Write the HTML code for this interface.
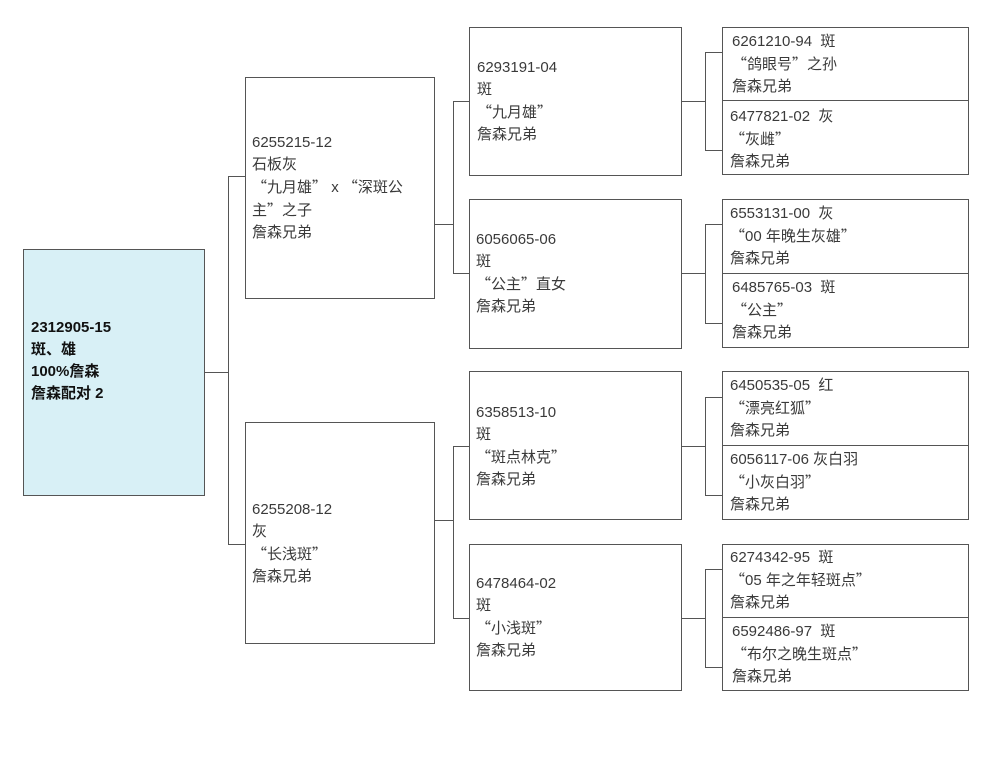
<!DOCTYPE html>
<html><head><meta charset="utf-8"><style>
body{margin:0;background:#fff;}
#c{position:relative;width:990px;height:765px;overflow:hidden;background:#fff;font-family:"Liberation Sans","Noto Sans CJK SC",sans-serif;}
.b{position:absolute;border:1.5px solid #555;box-sizing:border-box;background:#fff;}
.t{position:absolute;font-size:15px;line-height:22px;color:#3a3a3a;white-space:pre;}
.h{position:absolute;height:0;border-top:1.5px solid #555;}
.v{position:absolute;width:0;border-left:1.5px solid #555;}
q{quotes:none;font-family:"Noto Sans CJK SC",sans-serif;}
q:before,q:after{content:none;}
</style></head><body><div id="c">
<div class="b" style="left:23px;top:249px;width:182px;height:247px;background:#d8f0f6;"></div>
<div class="t" style="left:31px;top:317px;color:#111;font-weight:bold;">2312905-15
斑、雄
100%詹森
詹森配对 2</div>
<div class="h" style="left:204px;top:372px;width:24px;"></div>
<div class="v" style="left:228px;top:176px;height:368px;"></div>
<div class="h" style="left:228px;top:176px;width:17px;"></div>
<div class="h" style="left:228px;top:544px;width:17px;"></div>
<div class="b" style="left:245px;top:77px;width:190px;height:222px;"></div>
<div class="t" style="left:252px;top:132px;">6255215-12
石板灰
<q>“</q>九月雄<q>”</q> x <q>“</q>深斑公
主<q>”</q>之子
詹森兄弟</div>
<div class="b" style="left:245px;top:422px;width:190px;height:222px;"></div>
<div class="t" style="left:252px;top:499px;">6255208-12
灰
<q>“</q>长浅斑<q>”</q>
詹森兄弟</div>
<div class="h" style="left:434px;top:224px;width:19px;"></div>
<div class="v" style="left:453px;top:101px;height:172px;"></div>
<div class="h" style="left:453px;top:101px;width:17px;"></div>
<div class="h" style="left:453px;top:273px;width:17px;"></div>
<div class="h" style="left:434px;top:520px;width:19px;"></div>
<div class="v" style="left:453px;top:446px;height:172px;"></div>
<div class="h" style="left:453px;top:446px;width:17px;"></div>
<div class="h" style="left:453px;top:618px;width:17px;"></div>
<div class="b" style="left:469px;top:27px;width:213px;height:149px;"></div>
<div class="t" style="left:477px;top:57px;">6293191-04
斑
<q>“</q>九月雄<q>”</q>
詹森兄弟</div>
<div class="b" style="left:469px;top:199px;width:213px;height:150px;"></div>
<div class="t" style="left:476px;top:229px;">6056065-06
斑
<q>“</q>公主<q>”</q>直女
詹森兄弟</div>
<div class="b" style="left:469px;top:371px;width:213px;height:149px;"></div>
<div class="t" style="left:476px;top:402px;">6358513-10
斑
<q>“</q>斑点林克<q>”</q>
詹森兄弟</div>
<div class="b" style="left:469px;top:544px;width:213px;height:147px;"></div>
<div class="t" style="left:476px;top:573px;">6478464-02
斑
<q>“</q>小浅斑<q>”</q>
詹森兄弟</div>
<div class="h" style="left:681px;top:101px;width:24px;"></div>
<div class="v" style="left:705px;top:52px;height:98px;"></div>
<div class="h" style="left:705px;top:52px;width:18px;"></div>
<div class="h" style="left:705px;top:150px;width:18px;"></div>
<div class="h" style="left:681px;top:273px;width:24px;"></div>
<div class="v" style="left:705px;top:224px;height:99px;"></div>
<div class="h" style="left:705px;top:224px;width:18px;"></div>
<div class="h" style="left:705px;top:323px;width:18px;"></div>
<div class="h" style="left:681px;top:446px;width:24px;"></div>
<div class="v" style="left:705px;top:397px;height:98px;"></div>
<div class="h" style="left:705px;top:397px;width:18px;"></div>
<div class="h" style="left:705px;top:495px;width:18px;"></div>
<div class="h" style="left:681px;top:618px;width:24px;"></div>
<div class="v" style="left:705px;top:569px;height:98px;"></div>
<div class="h" style="left:705px;top:569px;width:18px;"></div>
<div class="h" style="left:705px;top:667px;width:18px;"></div>
<div class="b" style="left:722px;top:27px;width:247px;height:148px;"></div>
<div class="h" style="left:722px;top:100px;width:247px;"></div>
<div class="b" style="left:722px;top:199px;width:247px;height:149px;"></div>
<div class="h" style="left:722px;top:273px;width:247px;"></div>
<div class="b" style="left:722px;top:371px;width:247px;height:149px;"></div>
<div class="h" style="left:722px;top:445px;width:247px;"></div>
<div class="b" style="left:722px;top:544px;width:247px;height:147px;"></div>
<div class="h" style="left:722px;top:617px;width:247px;"></div>
<div class="t" style="left:732px;top:31px;">6261210-94  斑
<q>“</q>鸽眼号<q>”</q>之孙
詹森兄弟</div>
<div class="t" style="left:730px;top:106px;">6477821-02  灰
<q>“</q>灰雌<q>”</q>
詹森兄弟</div>
<div class="t" style="left:730px;top:203px;">6553131-00  灰
<q>“</q>00 年晚生灰雄<q>”</q>
詹森兄弟</div>
<div class="t" style="left:732px;top:277px;">6485765-03  斑
<q>“</q>公主<q>”</q>
詹森兄弟</div>
<div class="t" style="left:730px;top:375px;">6450535-05  红
<q>“</q>漂亮红狐<q>”</q>
詹森兄弟</div>
<div class="t" style="left:730px;top:449px;">6056117-06 灰白羽
<q>“</q>小灰白羽<q>”</q>
詹森兄弟</div>
<div class="t" style="left:730px;top:547px;">6274342-95  斑
<q>“</q>05 年之年轻斑点<q>”</q>
詹森兄弟</div>
<div class="t" style="left:732px;top:621px;">6592486-97  斑
<q>“</q>布尔之晚生斑点<q>”</q>
詹森兄弟</div>
</div></body></html>
